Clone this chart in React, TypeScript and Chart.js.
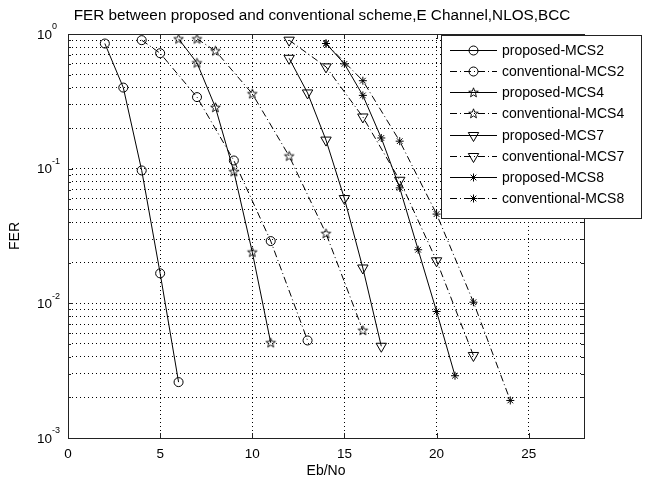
import React, { useEffect, useRef } from 'react';
import { Chart, registerables } from 'chart.js';

Chart.register(...registerables);

// ---- data ----
const titleText = 'FER between proposed and conventional scheme,E Channel,NLOS,BCC';
const xLabelText = 'Eb/No';
const yLabelText = 'FER';
const xTickValues = [0, 5, 10, 15, 20, 25];
const yDecadeValues = [1, 0.1, 0.01, 0.001];
const yDecadeExponents = ['0', '-1', '-2', '-3'];
const xMin = 0;
const xMax = 28;
const yMin = 0.001;
const yMax = 1;

const seriesNames = [
  'proposed-MCS2',
  'conventional-MCS2',
  'proposed-MCS4',
  'conventional-MCS4',
  'proposed-MCS7',
  'conventional-MCS7',
  'proposed-MCS8',
  'conventional-MCS8',
];

const p2x = [2, 3, 4, 5, 6];
const p2y = [0.85, 0.4, 0.097, 0.0167, 0.0026];
const c2x = [4, 5, 7, 9, 11, 13];
const c2y = [0.9, 0.72, 0.34, 0.115, 0.029, 0.0053];
const p4x = [6, 7, 8, 9, 10, 11];
const p4y = [0.92, 0.61, 0.285, 0.095, 0.024, 0.0051];
const c4x = [7, 8, 10, 12, 14, 16];
const c4y = [0.92, 0.75, 0.36, 0.124, 0.033, 0.0063];
const p7x = [12, 13, 14, 15, 16, 17];
const p7y = [0.66, 0.365, 0.163, 0.06, 0.0183, 0.0048];
const c7x = [12, 14, 16, 18, 20, 22];
const c7y = [0.9, 0.57, 0.242, 0.082, 0.0207, 0.0041];
const p8x = [14, 15, 16, 17, 18, 19, 20, 21];
const p8y = [0.85, 0.6, 0.35, 0.169, 0.072, 0.025, 0.0087, 0.0029];
const c8x = [14, 16, 18, 20, 22, 24];
const c8y = [0.85, 0.45, 0.16, 0.046, 0.0102, 0.0019];

const seriesX = [p2x, c2x, p4x, c4x, p7x, c7x, p8x, c8x];
const seriesY = [p2y, c2y, p4y, c4y, p7y, c7y, p8y, c8y];
const seriesMarkers = ['circle', 'circle', 'pentagram', 'pentagram', 'tri', 'tri', 'ast', 'ast'];
const seriesDashed = [false, true, false, true, false, true, false, true];

// ---- styling ----
const FONT = '"Liberation Sans", Arial, Helvetica, sans-serif';
const DASHDOT = [7, 3, 1, 3];

function makePentagram(): HTMLCanvasElement {
  const c = document.createElement('canvas');
  c.width = 13;
  c.height = 13;
  const g = c.getContext('2d')!;
  const cx = 6.5, cy = 6.8, R = 5.0, r = R * 0.42;
  g.strokeStyle = '#000';
  g.lineWidth = 0.9;
  g.beginPath();
  for (let i = 0; i < 10; i++) {
    const rad = (Math.PI / 5) * i - Math.PI / 2;
    const rr = i % 2 === 0 ? R : r;
    const px = cx + Math.cos(rad) * rr;
    const py = cy + Math.sin(rad) * rr;
    if (i === 0) g.moveTo(px, py);
    else g.lineTo(px, py);
  }
  g.closePath();
  g.stroke();
  return c;
}

function drawMarker(ctx: CanvasRenderingContext2D, kind: string, x: number, y: number, pent: HTMLCanvasElement) {
  ctx.save();
  ctx.setLineDash([]);
  ctx.strokeStyle = '#000';
  ctx.lineWidth = 1;
  if (kind === 'circle') {
    ctx.beginPath();
    ctx.arc(x, y, 4.5, 0, Math.PI * 2);
    ctx.stroke();
  } else if (kind === 'tri') {
    const r = 6;
    ctx.beginPath();
    for (let i = 0; i < 3; i++) {
      const rad = Math.PI + (i * 2 * Math.PI) / 3;
      const px = x + Math.sin(rad) * r;
      const py = y - Math.cos(rad) * r;
      if (i === 0) ctx.moveTo(px, py);
      else ctx.lineTo(px, py);
    }
    ctx.closePath();
    ctx.stroke();
  } else if (kind === 'pentagram') {
    ctx.drawImage(pent, x - pent.width / 2, y - pent.height / 2);
  } else {
    const r = 4;
    const d = r * Math.SQRT1_2;
    ctx.beginPath();
    ctx.moveTo(x - r, y); ctx.lineTo(x + r, y);
    ctx.moveTo(x, y - r); ctx.lineTo(x, y + r);
    ctx.moveTo(x - d, y - d); ctx.lineTo(x + d, y + d);
    ctx.moveTo(x - d, y + d); ctx.lineTo(x + d, y - d);
    ctx.stroke();
  }
  ctx.restore();
}

export default function App() {
  const ref = useRef<HTMLCanvasElement | null>(null);

  useEffect(() => {
    const canvas = ref.current;
    if (!canvas) return;
    const pent = makePentagram();

    const datasets = seriesNames.map((name, i) => {
      const kind = seriesMarkers[i];
      let pointStyle: any = 'circle';
      let radius = 4.5;
      let rotation = 0;
      if (kind === 'tri') { pointStyle = 'triangle'; radius = 6; rotation = 180; }
      else if (kind === 'pentagram') { pointStyle = pent; radius = 5; }
      else if (kind === 'ast') { pointStyle = 'star'; radius = 4; }
      return {
        label: name,
        data: seriesX[i].map((x, j) => ({ x, y: seriesY[i][j] })),
        borderColor: '#000',
        borderWidth: 1,
        borderDash: seriesDashed[i] ? DASHDOT : [],
        fill: false,
        tension: 0,
        pointStyle,
        pointRadius: radius,
        pointRotation: rotation,
        pointBorderColor: '#000',
        pointBackgroundColor: 'rgba(0,0,0,0)',
        pointBorderWidth: 1,
        pointHoverRadius: radius,
      };
    });

    const decorPlugin = {
      id: 'decor',
      afterDraw(chart: any) {
        const ctx: CanvasRenderingContext2D = chart.ctx;
        const a = chart.chartArea;
        const xs = chart.scales.x;
        const ys = chart.scales.y;
        ctx.save();
        // box
        ctx.setLineDash([]);
        ctx.strokeStyle = '#222';
        ctx.lineWidth = 1;
        ctx.strokeRect(Math.round(a.left) + 0.5, Math.round(a.top) + 0.5, Math.round(a.right - a.left), Math.round(a.bottom - a.top));
        // inward ticks
        ctx.beginPath();
        xTickValues.forEach((v) => {
          const px = Math.round(xs.getPixelForValue(v)) + 0.5;
          ctx.moveTo(px, a.bottom); ctx.lineTo(px, a.bottom - 5);
          ctx.moveTo(px, a.top); ctx.lineTo(px, a.top + 5);
        });
        for (let e = -3; e <= 0; e++) {
          for (let k = 1; k <= 9; k++) {
            const v = k * Math.pow(10, e);
            if (v > yMax + 1e-12) break;
            const py = Math.round(ys.getPixelForValue(v)) + 0.5;
            const len = k === 1 ? 5 : 3;
            ctx.moveTo(a.left, py); ctx.lineTo(a.left + len, py);
            ctx.moveTo(a.right, py); ctx.lineTo(a.right - len, py);
          }
        }
        ctx.stroke();

        ctx.fillStyle = '#000';
        // y tick labels 10^k
        yDecadeValues.forEach((v, i) => {
          const py = ys.getPixelForValue(v);
          ctx.font = `13.5px ${FONT}`;
          ctx.textBaseline = 'middle';
          ctx.textAlign = 'left';
          ctx.fillText('10', 37, py + 1);
          ctx.font = `9px ${FONT}`;
          ctx.fillText(yDecadeExponents[i], 52, py - 7);
        });

        // title
        ctx.font = `15.3px ${FONT}`;
        ctx.textAlign = 'center';
        ctx.textBaseline = 'middle';
        ctx.fillText(titleText, 322, 16);

        // x label
        ctx.font = `14px ${FONT}`;
        ctx.fillText(xLabelText, (a.left + a.right) / 2, 471);

        // y label
        ctx.save();
        ctx.translate(15, (a.top + a.bottom) / 2);
        ctx.rotate(-Math.PI / 2);
        ctx.fillText(yLabelText, 0, 0);
        ctx.restore();

        // legend
        const lx = 441, ly = 35, lw = 200, lh = 183;
        ctx.fillStyle = '#fff';
        ctx.fillRect(lx, ly, lw, lh);
        ctx.strokeStyle = '#222';
        ctx.strokeRect(lx + 0.5, ly + 0.5, lw, lh);
        seriesNames.forEach((name, i) => {
          const ry = Math.round(50 + i * 21.15) + 0.5;
          ctx.save();
          ctx.strokeStyle = '#000';
          ctx.lineWidth = 1;
          ctx.setLineDash(seriesDashed[i] ? DASHDOT : []);
          ctx.beginPath();
          ctx.moveTo(450, ry);
          ctx.lineTo(497, ry);
          ctx.stroke();
          ctx.restore();
          drawMarker(ctx, seriesMarkers[i], 473.5, ry, pent);
          ctx.fillStyle = '#000';
          ctx.font = `14px ${FONT}`;
          ctx.textAlign = 'left';
          ctx.textBaseline = 'middle';
          ctx.fillText(name, 502, ry + 1);
        });
        ctx.restore();
      },
    };

    const chart = new Chart(canvas, {
      type: 'line',
      data: { datasets: datasets as any },
      options: {
        responsive: false,
        animation: false,
        devicePixelRatio: 1,
        layout: { padding: { left: 0, top: 34, right: 68, bottom: 0 } },
        plugins: {
          legend: { display: false },
          title: { display: false },
          tooltip: { enabled: false },
        },
        scales: {
          x: {
            type: 'linear',
            min: xMin,
            max: xMax,
            afterBuildTicks: (s: any) => {
              s.ticks = xTickValues.map((v) => ({ value: v }));
            },
            afterFit: (s: any) => {
              s.height = 44;
            },
            ticks: {
              autoSkip: false,
              maxRotation: 0,
              padding: 8,
              color: '#000',
              font: { family: FONT, size: 13.5 },
            },
            grid: { color: '#000', lineWidth: 1, drawTicks: false },
            border: { display: false, dash: [1, 3] },
          },
          y: {
            type: 'logarithmic',
            min: yMin,
            max: yMax,
            afterBuildTicks: (s: any) => {
              const t: any[] = [];
              for (let e = -3; e <= 0; e++) {
                for (let k = 1; k <= 9; k++) {
                  const v = k * Math.pow(10, e);
                  if (v > yMax + 1e-12) break;
                  t.push({ value: v });
                }
              }
              s.ticks = t;
            },
            afterFit: (s: any) => {
              s.width = 68;
            },
            ticks: { display: false, autoSkip: false },
            grid: { color: '#000', lineWidth: 1, drawTicks: false },
            border: { display: false, dash: [1, 3] },
          },
        },
      },
      plugins: [decorPlugin],
    });

    return () => chart.destroy();
  }, []);

  return (
    <div style={{ position: 'fixed', left: 0, top: 0, width: 652, height: 482, background: '#fff' }}>
      <canvas ref={ref} width={652} height={482} style={{ display: 'block', width: 652, height: 482 }} />
    </div>
  );
}
